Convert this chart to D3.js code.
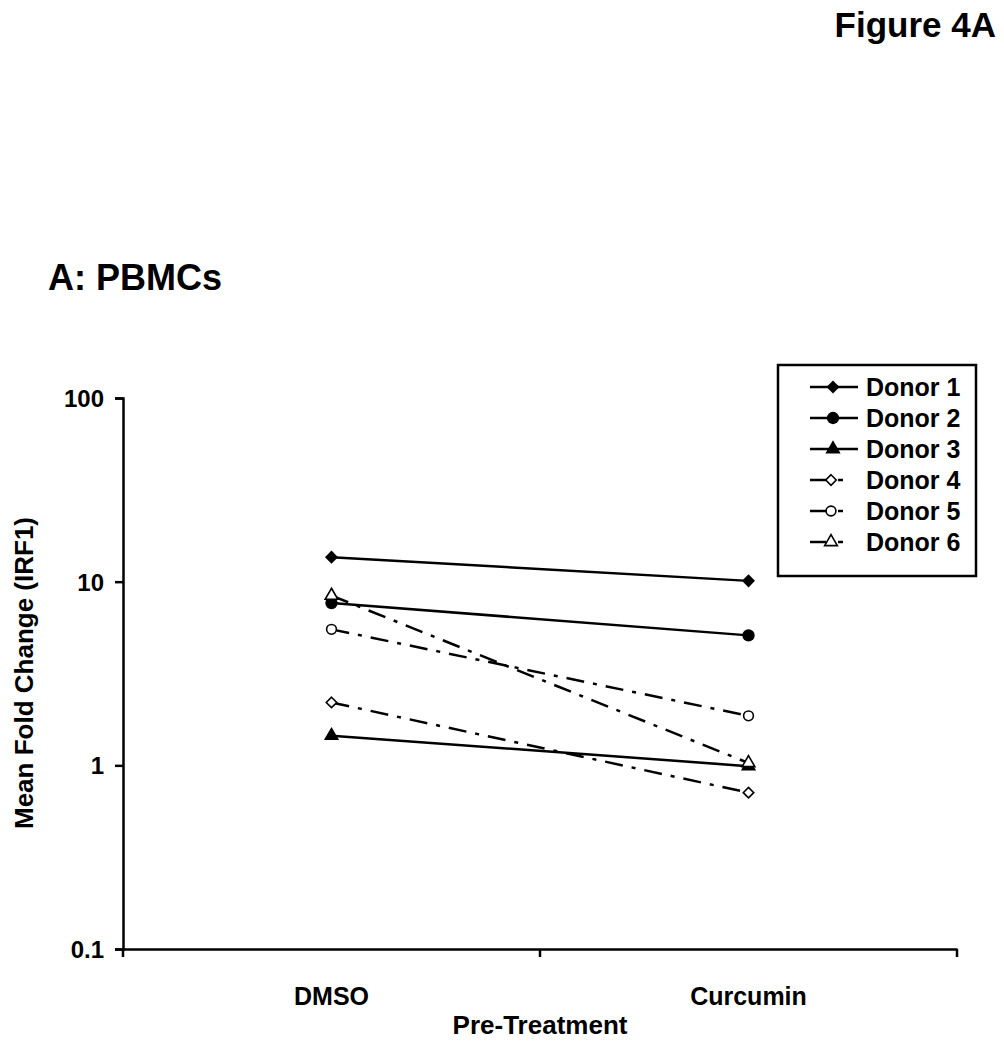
<!DOCTYPE html>
<html>
<head>
<meta charset="utf-8">
<script src="https://cdn.jsdelivr.net/npm/d3@7"></script>
<style>
  body { margin: 0; background: #fff; }
  text { font-family: "Liberation Sans", Arial, sans-serif; font-weight: bold; fill: #000; }
</style>
</head>
<body>
<script>
// categories and series
var treatments = ["DMSO", "Curcumin"];
var donors = ["Donor 1", "Donor 2", "Donor 3", "Donor 4", "Donor 5", "Donor 6"];
var dmsoValues = [13.6, 7.65, 1.45, 2.2, 5.5, 8.4];
var curcuminValues = [10.1, 5.1, 0.99, 0.71, 1.86, 1.03];
var markerShapes = ["diamond", "circle", "triangle", "diamond", "circle", "triangle"];
var markerFilled = [true, true, true, false, false, false];
var yTicks = [0.1, 1, 10, 100];

var width = 1004, height = 1050;
var margin = {top: 398, right: 47, bottom: 101, left: 123};
var w = width - margin.left - margin.right,
    h = height - margin.top - margin.bottom;

var svg = d3.select("body").append("svg")
    .attr("width", width)
    .attr("height", height);

var g = svg.append("g")
    .attr("transform", "translate(" + margin.left + "," + margin.top + ")");

var x = d3.scaleBand().domain(treatments).range([0, w]);
var y = d3.scaleLog().domain([0.1, 100]).range([h, 0]);

// axes
var yAxis = g.append("g")
    .call(d3.axisLeft(y).tickValues(yTicks).tickFormat(function(d) { return String(d); }).tickSizeOuter(0).tickSize(8));
var xAxis = g.append("g")
    .attr("transform", "translate(0," + h + ")")
    .call(d3.axisBottom(x).tickSize(0).tickSizeOuter(0));

// band boundary ticks on x axis
g.selectAll(".xb")
    .data([0, w / 2, w])
    .enter().append("line")
    .attr("x1", function(d) { return d; })
    .attr("x2", function(d) { return d; })
    .attr("y1", h)
    .attr("y2", h + 8)
    .attr("stroke", "#000")
    .attr("stroke-width", 2.5);

[yAxis, xAxis].forEach(function(a) {
  a.select(".domain").attr("stroke", "#000").attr("stroke-width", 2.5);
  a.selectAll(".tick line").attr("stroke", "#000").attr("stroke-width", 2.5);
  a.selectAll("text").style("font-family", "Liberation Sans, Arial, sans-serif").style("font-weight", "bold");
});
yAxis.selectAll("text").style("font-size", "24px").attr("x", -19).attr("dy", "0.35em");
xAxis.selectAll("text").style("font-size", "25px").attr("y", 38);

// square rotated 45 degrees, like the spreadsheet diamond marker
var squareDiamond = {
  draw: function(context, size) {
    var r = Math.sqrt(size / 2);
    context.moveTo(0, -r);
    context.lineTo(r, 0);
    context.lineTo(0, r);
    context.lineTo(-r, 0);
    context.closePath();
  }
};
var symbolType = {diamond: squareDiamond, circle: d3.symbolCircle, triangle: d3.symbolTriangle};
function symbolPath(shape, filled) {
  var s = filled ? {diamond: 85, circle: 120, triangle: 100} : {diamond: 55, circle: 75, triangle: 70};
  return d3.symbol().type(symbolType[shape]).size(s[shape])();
}

var series = donors.map(function(name, i) {
  return {name: name, values: [dmsoValues[i], curcuminValues[i]], shape: markerShapes[i], filled: markerFilled[i]};
});

var line = d3.line()
    .x(function(d, i) { return x(treatments[i]) + x.bandwidth() / 2; })
    .y(function(d) { return y(d); });

var sg = g.selectAll(".series")
    .data(series)
    .enter().append("g");

sg.append("path")
    .attr("d", function(d) { return line(d.values); })
    .attr("fill", "none")
    .attr("stroke", "#000")
    .attr("stroke-width", 2.5)
    .attr("stroke-dasharray", function(d) { return d.filled ? null : "18,9,4,9"; });

sg.each(function(d) {
  d3.select(this).selectAll("path.pt")
    .data(d.values)
    .enter().append("path")
    .attr("class", "pt")
    .attr("transform", function(v, i) {
      return "translate(" + (x(treatments[i]) + x.bandwidth() / 2) + "," + y(v) + ")";
    })
    .attr("d", symbolPath(d.shape, d.filled))
    .attr("fill", d.filled ? "#000" : "#fff")
    .attr("stroke", "#000")
    .attr("stroke-width", d.filled ? 0 : 1.6);
});

// axis titles
svg.append("text")
    .attr("x", margin.left + w / 2)
    .attr("y", 1034)
    .attr("text-anchor", "middle")
    .style("font-size", "26px")
    .text("Pre-Treatment");

svg.append("text")
    .attr("transform", "translate(33,673) rotate(-90)")
    .attr("text-anchor", "middle")
    .style("font-size", "26px")
    .text("Mean Fold Change (IRF1)");

// headings
svg.append("text")
    .attr("x", 996)
    .attr("y", 37)
    .attr("text-anchor", "end")
    .style("font-size", "35px")
    .text("Figure 4A");

svg.append("text")
    .attr("x", 48)
    .attr("y", 290)
    .style("font-size", "36px")
    .text("A: PBMCs");

// legend
var legend = svg.append("g").attr("transform", "translate(778,365)");
legend.append("rect")
    .attr("width", 198)
    .attr("height", 211)
    .attr("fill", "#fff")
    .attr("stroke", "#000")
    .attr("stroke-width", 2.5);

var li = legend.selectAll(".li")
    .data(series)
    .enter().append("g")
    .attr("transform", function(d, i) { return "translate(0," + (22 + i * 31) + ")"; });

li.append("line")
    .attr("x1", 32)
    .attr("x2", function(d) { return d.filled ? 80 : 48; })
    .attr("stroke", "#000")
    .attr("stroke-width", 2.5);
li.filter(function(d) { return !d.filled; })
    .append("line")
    .attr("x1", 60).attr("x2", 65)
    .attr("stroke", "#000")
    .attr("stroke-width", 2.5);
li.append("path")
    .attr("transform", function(d) { return "translate(" + (d.filled ? 55 : 53) + ",0)"; })
    .attr("d", function(d) { return symbolPath(d.shape, d.filled); })
    .attr("fill", function(d) { return d.filled ? "#000" : "#fff"; })
    .attr("stroke", "#000")
    .attr("stroke-width", function(d) { return d.filled ? 0 : 1.6; });
li.append("text")
    .attr("x", 88)
    .attr("dy", "0.36em")
    .style("font-size", "25px")
    .text(function(d) { return d.name; });
</script>
</body>
</html>
